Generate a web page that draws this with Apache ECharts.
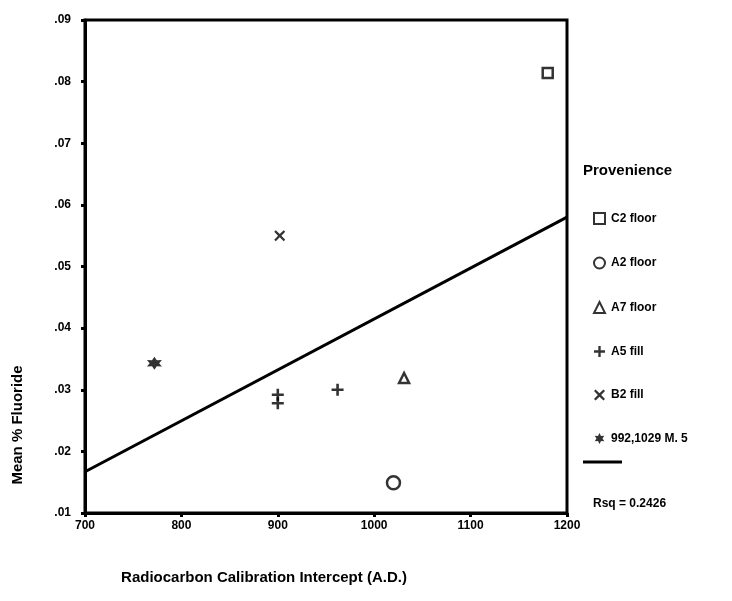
<!DOCTYPE html>
<html>
<head>
<meta charset="utf-8">
<script src="https://cdn.jsdelivr.net/npm/echarts@6/dist/echarts.min.js"></script>
<style>
  html, body { margin: 0; padding: 0; background: #fff; }
  #chart { width: 732px; height: 601px; }
</style>
</head>
<body>
<div id="chart"></div>
<script>
// values: [radiocarbon intercept, mean % fluoride]
const c2Floor = [[1180, 0.0814]];
const a2Floor = [[1020, 0.0149]];
const a7Floor = [[1031, 0.0319]];
const a5Fill = [[900, 0.0292], [900, 0.0278], [962, 0.0300]];
const b2Fill = [[902, 0.0550]];
const m5 = [[772, 0.0343]];
const fitLine = [[700, 0.0167], [1200, 0.0580]];
const rsq = 'Rsq = 0.2426';

const font = '"Liberation Sans", Arial, sans-serif';
const ink = '#000';

const plusPath = 'path://M-1.3,-6 h2.6 v4.7 h4.7 v2.6 h-4.7 v4.7 h-2.6 v-4.7 h-4.7 v-2.6 h4.7z';
const crossPath = 'path://M-4.3,-6 L0,-1.8 L4.3,-6 L6,-4.3 L1.8,0 L6,4.3 L4.3,6 L0,1.8 L-4.3,6 L-6,4.3 L-1.8,0 L-6,-4.3Z';
const starPath = 'path://M0,-10 L2.75,-4.76 L8.66,-5 L5.5,0 L8.66,5 L2.75,4.76 L0,10 L-2.75,4.76 L-8.66,5 L-5.5,0 L-8.66,-5 L-2.75,-4.76 Z';

const chart = echarts.init(document.getElementById('chart'));

const hollow = { color: '#fff', borderColor: ink, borderWidth: 2.5 };
const solid = { color: ink, borderWidth: 0 };

chart.setOption({
    animation: false,
    backgroundColor: '#fff',
    grid: {
        left: 85, right: 165, top: 20, bottom: 88,
        show: true, borderColor: ink, borderWidth: 3
    },
    xAxis: {
        type: 'value',
        min: 700, max: 1200, interval: 100,
        splitLine: { show: false },
        axisLine: { lineStyle: { color: ink, width: 3 } },
        axisTick: { length: 4, lineStyle: { color: ink, width: 3 } },
        axisLabel: {
            color: ink, fontFamily: font, fontWeight: 'bold', fontSize: 12, margin: 7,
            formatter: v => String(v)
        }
    },
    yAxis: {
        type: 'value',
        min: 0.01, max: 0.09, interval: 0.01,
        splitLine: { show: false },
        axisLine: { lineStyle: { color: ink, width: 3 } },
        axisTick: { length: 4, lineStyle: { color: ink, width: 3 } },
        axisLabel: {
            color: ink, fontFamily: font, fontWeight: 'bold', fontSize: 12, margin: 14,
            formatter: v => v.toFixed(2).replace(/^0/, '')
        }
    },
    legend: {
        orient: 'vertical',
        left: 588, top: 207,
        itemWidth: 11, itemHeight: 11, itemGap: 31.5,
        textStyle: { color: ink, fontFamily: font, fontWeight: 'bold', fontSize: 12, padding: [0, 0, 0, 1] },
        data: ['C2 floor', 'A2 floor', 'A7 floor', 'A5 fill', 'B2 fill', '992,1029 M. 5']
    },
    graphic: [
        {
            type: 'text', left: 583, top: 163,
            style: { text: 'Provenience', fill: ink, font: 'bold 15px ' + font }
        },
        {
            type: 'line', shape: { x1: 583, y1: 462, x2: 622, y2: 462 },
            style: { stroke: ink, lineWidth: 3 }
        },
        {
            type: 'text', left: 593, top: 498,
            style: { text: rsq, fill: ink, font: 'bold 12px ' + font }
        },
        {
            type: 'text', x: 264, y: 578,
            style: { text: 'Radiocarbon Calibration Intercept (A.D.)', fill: ink, font: 'bold 15px ' + font, align: 'center', verticalAlign: 'middle' }
        },
        {
            type: 'text', x: 18, y: 425, rotation: Math.PI / 2,
            style: { text: 'Mean % Fluoride', fill: ink, font: 'bold 15px ' + font, align: 'center', verticalAlign: 'middle' }
        }
    ],
    series: [
        { name: 'C2 floor', type: 'scatter', data: c2Floor, symbol: 'rect', symbolSize: 10, itemStyle: hollow },
        { name: 'A2 floor', type: 'scatter', data: a2Floor, symbol: 'circle', symbolSize: 13, itemStyle: hollow },
        { name: 'A7 floor', type: 'scatter', data: a7Floor, symbol: 'triangle', symbolSize: 10, itemStyle: hollow },
        { name: 'A5 fill', type: 'scatter', data: a5Fill, symbol: plusPath, symbolSize: 12, itemStyle: solid },
        { name: 'B2 fill', type: 'scatter', data: b2Fill, symbol: crossPath, symbolSize: 11, itemStyle: solid },
        { name: '992,1029 M. 5', type: 'scatter', data: m5, symbol: starPath, symbolSize: [15, 13], itemStyle: solid },
        {
            name: 'fit', type: 'line', data: fitLine, symbol: 'none', silent: true,
            lineStyle: { color: ink, width: 3 }
        }
    ]
});
</script>
</body>
</html>
